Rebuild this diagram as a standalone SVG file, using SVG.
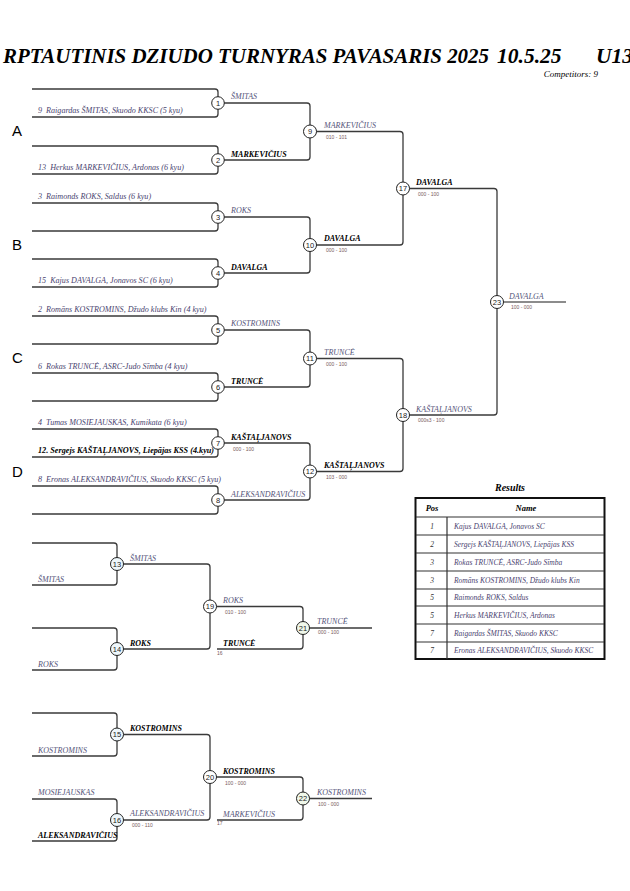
<svg xmlns="http://www.w3.org/2000/svg" width="630" height="891" viewBox="0 0 630 891">
<defs>
<style>
.ln{fill:none;stroke:#3a3a3a;stroke-width:1.3}
.nc{fill:#fff;stroke:#222;stroke-width:1}
.nt{fill:#eef7fb;stroke:#222;stroke-width:1}
.ng{fill:#f0f8ea;stroke:#222;stroke-width:1}
.nn{font-family:"Liberation Sans",Arial,sans-serif;font-size:7.5px;text-anchor:middle;fill:#222}
.ent{font-family:"Liberation Serif","Times New Roman",serif;font-style:italic;font-size:8.1px;fill:#4a4470;white-space:pre}
.entb{font-family:"Liberation Serif","Times New Roman",serif;font-style:italic;font-weight:bold;font-size:8.2px;fill:#000;white-space:pre}
.w{font-family:"Liberation Serif","Times New Roman",serif;font-style:italic;font-size:8px;fill:#55557a}
.wb{font-family:"Liberation Serif","Times New Roman",serif;font-style:italic;font-weight:bold;font-size:8px;fill:#000}
.sc{font-family:"Liberation Sans",Arial,sans-serif;font-size:5px;fill:#7a5a5a}
.grp{font-family:"Liberation Sans",Arial,sans-serif;font-size:15px;fill:#000}
.ttl{font-family:"Liberation Serif","Times New Roman",serif;font-style:italic;font-weight:bold;font-size:21.5px;fill:#000}
.tb{font-family:"Liberation Serif","Times New Roman",serif;font-style:italic;font-size:7.5px;fill:#4a4470}
.tp{font-family:"Liberation Serif","Times New Roman",serif;font-style:italic;font-size:7.5px;fill:#333;text-anchor:middle}
.th{font-family:"Liberation Serif","Times New Roman",serif;font-style:italic;font-weight:bold;font-size:8.5px;fill:#000;text-anchor:middle}
.tl{stroke:#333;stroke-width:1.2}
</style>
</defs>
<rect width="630" height="891" fill="#fff"/>
<g id="title">
<text class="ttl" x="3" y="63" textLength="486" lengthAdjust="spacingAndGlyphs">RPTAUTINIS DZIUDO TURNYRAS PAVASARIS 2025</text>
<text class="ttl" x="497" y="63">10.5.25</text>
<text class="ttl" x="596" y="63">U13-</text>
<text x="598" y="77" text-anchor="end" style="font-family:'Liberation Serif',serif;font-style:italic;font-size:9px;fill:#000">Competitors: 9</text>
</g>
<g id="pools">
<text class="grp" x="12" y="136">A</text>
<text class="grp" x="12" y="250">B</text>
<text class="grp" x="12" y="363">C</text>
<text class="grp" x="12" y="477">D</text>
</g>
<g id="connectors">
<path class="ln" d="M32,89 H215 Q218,89 218,92 V114 Q218,117 215,117 H32"/>
<path class="ln" d="M32,146 H215 Q218,146 218,149 V171 Q218,174 215,174 H32"/>
<path class="ln" d="M32,203 H215 Q218,203 218,206 V228 Q218,231 215,231 H32"/>
<path class="ln" d="M32,259 H215 Q218,259 218,262 V284 Q218,287 215,287 H32"/>
<path class="ln" d="M32,316 H215 Q218,316 218,319 V341 Q218,344 215,344 H32"/>
<path class="ln" d="M32,373 H215 Q218,373 218,376 V398 Q218,401 215,401 H32"/>
<path class="ln" d="M32,429 H215 Q218,429 218,432 V454 Q218,457 215,457 H32"/>
<path class="ln" d="M32,486 H215 Q218,486 218,489 V511 Q218,514 215,514 H32"/>
<path class="ln" d="M218,103 H307 Q310,103 310,106 V157 Q310,160 307,160 H218"/>
<path class="ln" d="M218,217 H307 Q310,217 310,220 V270 Q310,273 307,273 H218"/>
<path class="ln" d="M218,330 H307 Q310,330 310,333 V384 Q310,387 307,387 H218"/>
<path class="ln" d="M218,443 H307 Q310,443 310,446 V497 Q310,500 307,500 H218"/>
<path class="ln" d="M310,131.5 H400 Q403,131.5 403,134.5 V242 Q403,245 400,245 H310"/>
<path class="ln" d="M310,358.5 H400 Q403,358.5 403,361.5 V468.5 Q403,471.5 400,471.5 H310"/>
<path class="ln" d="M403,188.5 H494 Q497,188.5 497,191.5 V412 Q497,415 494,415 H403"/>
<path class="ln" d="M497,302 H566" style="stroke:#666;stroke-width:1.6"/>
<path class="ln" d="M32,543 H114 Q117,543 117,546 V582 Q117,585 114,585 H32"/>
<path class="ln" d="M32,628 H114 Q117,628 117,631 V667 Q117,670 114,670 H32"/>
<path class="ln" d="M117,564 H207 Q210,564 210,567 V646 Q210,649 207,649 H117"/>
<path class="ln" d="M210,606.5 H300 Q303,606.5 303,609.5 V646 Q303,649 300,649 H217"/>
<path class="ln" d="M303,628 H372"/>
<path class="ln" d="M32,713 H114 Q117,713 117,716 V753 Q117,756 114,756 H32"/>
<path class="ln" d="M32,799 H114 Q117,799 117,802 V838 Q117,841 114,841 H32"/>
<path class="ln" d="M117,734.5 H207 Q210,734.5 210,737.5 V817 Q210,820 207,820 H117"/>
<path class="ln" d="M210,777 H300 Q303,777 303,780 V817 Q303,820 300,820 H217"/>
<path class="ln" d="M303,798.5 H372"/>
</g>
<g id="entrants">
<text class="ent" x="38" y="113">9  Raigardas ŠMITAS, Skuodo KKSC (5 kyu)</text>
<text class="ent" x="38" y="170">13  Herkus MARKEVIČIUS, Ardonas (6 kyu)</text>
<text class="ent" x="38" y="199">3  Raimonds ROKS, Saldus (6 kyu)</text>
<text class="ent" x="38" y="283">15  Kajus DAVALGA, Jonavos SC (6 kyu)</text>
<text class="ent" x="38" y="312">2  Romāns KOSTROMINS, Džudo klubs Kin (4 kyu)</text>
<text class="ent" x="38" y="369">6  Rokas TRUNCĖ, ASRC-Judo Sīmba (4 kyu)</text>
<text class="ent" x="38" y="425">4  Tumas MOSIEJAUSKAS, Kumikata (6 kyu)</text>
<text class="entb" x="38" y="453">12. Sergejs KAŠTAĻJANOVS, Liepājas KSS (4.kyu)</text>
<text class="ent" x="38" y="482">8  Eronas ALEKSANDRAVIČIUS, Skuodo KKSC (5 kyu)</text>
<text class="w" x="38" y="582">ŠMITAS</text>
<text class="w" x="38" y="667">ROKS</text>
<text class="w" x="38" y="753">KOSTROMINS</text>
<text class="w" x="38" y="795">MOSIEJAUSKAS</text>
<text class="wb" x="38" y="838">ALEKSANDRAVIČIUS</text>
</g>
<g id="m1"><circle class="nc" cx="218" cy="103" r="6.3"/><text class="nn" x="218" y="105.7">1</text><text class="w" x="231" y="99">ŠMITAS</text></g>
<g id="m2"><circle class="nc" cx="218" cy="160" r="6.3"/><text class="nn" x="218" y="162.7">2</text><text class="wb" x="231" y="157">MARKEVIČIUS</text></g>
<g id="m3"><circle class="nc" cx="218" cy="217" r="6.3"/><text class="nn" x="218" y="219.7">3</text><text class="w" x="231" y="213">ROKS</text></g>
<g id="m4"><circle class="nc" cx="218" cy="273" r="6.3"/><text class="nn" x="218" y="275.7">4</text><text class="wb" x="231" y="270">DAVALGA</text></g>
<g id="m5"><circle class="nc" cx="218" cy="330" r="6.3"/><text class="nn" x="218" y="332.7">5</text><text class="w" x="231" y="326">KOSTROMINS</text></g>
<g id="m6"><circle class="nc" cx="218" cy="387" r="6.3"/><text class="nn" x="218" y="389.7">6</text><text class="wb" x="231" y="384">TRUNCĖ</text></g>
<g id="m7"><circle class="nc" cx="218" cy="443" r="6.3"/><text class="nn" x="218" y="445.7">7</text><text class="wb" x="231" y="440">KAŠTAĻJANOVS</text><text class="sc" x="233" y="451">000 - 100</text></g>
<g id="m8"><circle class="nc" cx="218" cy="500" r="6.3"/><text class="nn" x="218" y="502.7">8</text><text class="w" x="231" y="497">ALEKSANDRAVIČIUS</text></g>
<g id="m9"><circle class="nc" cx="310" cy="131.5" r="6.5"/><text class="nn" x="310" y="134.2">9</text><text class="w" x="324" y="128">MARKEVIČIUS</text><text class="sc" x="326" y="139">010 - 101</text></g>
<g id="m10"><circle class="nc" cx="310" cy="245" r="6.5"/><text class="nn" x="310" y="247.7">10</text><text class="wb" x="324" y="241">DAVALGA</text><text class="sc" x="326" y="252">000 - 100</text></g>
<g id="m11"><circle class="nc" cx="310" cy="358.5" r="6.5"/><text class="nn" x="310" y="361.2">11</text><text class="w" x="324" y="355">TRUNCĖ</text><text class="sc" x="326" y="366">000 - 100</text></g>
<g id="m12"><circle class="nc" cx="310" cy="471.5" r="6.5"/><text class="nn" x="310" y="474.2">12</text><text class="wb" x="324" y="468">KAŠTAĻJANOVS</text><text class="sc" x="326" y="479">103 - 000</text></g>
<g id="m17"><circle class="nc" cx="403" cy="188.5" r="6.5"/><text class="nn" x="403" y="191.2">17</text><text class="wb" x="416" y="185">DAVALGA</text><text class="sc" x="418" y="196">000 - 100</text></g>
<g id="m18"><circle class="nc" cx="403" cy="415" r="6.5"/><text class="nn" x="403" y="417.7">18</text><text class="w" x="416" y="412">KAŠTAĻJANOVS</text><text class="sc" x="418" y="422">000s3 - 100</text></g>
<g id="m23"><circle class="nc" cx="497" cy="302" r="6.5"/><text class="nn" x="497" y="304.7">23</text><text class="w" x="509" y="299">DAVALGA</text><text class="sc" x="511" y="309">100 - 000</text></g>
<g id="m13"><circle class="nt" cx="117" cy="564" r="6.5"/><text class="nn" x="117" y="566.7">13</text><text class="w" x="130" y="561">ŠMITAS</text></g>
<g id="m14"><circle class="nt" cx="117" cy="649" r="6.5"/><text class="nn" x="117" y="651.7">14</text><text class="wb" x="130" y="646">ROKS</text></g>
<g id="m19"><circle class="nc" cx="210" cy="606.5" r="6.5"/><text class="nn" x="210" y="609.2">19</text><text class="w" x="223" y="603">ROKS</text><text class="sc" x="225" y="614">010 - 100</text><text class="wb" x="223" y="646">TRUNCĖ</text><text class="sc" x="217" y="655">16</text></g>
<g id="m21"><circle class="ng" cx="303" cy="628" r="6.5"/><text class="nn" x="303" y="630.7">21</text><text class="w" x="317" y="624">TRUNCĖ</text><text class="sc" x="318" y="634">000 - 100</text></g>
<g id="m15"><circle class="nt" cx="117" cy="734.5" r="6.5"/><text class="nn" x="117" y="737.2">15</text><text class="wb" x="130" y="731">KOSTROMINS</text></g>
<g id="m16"><circle class="nt" cx="117" cy="820" r="6.5"/><text class="nn" x="117" y="822.7">16</text><text class="w" x="130" y="816">ALEKSANDRAVIČIUS</text><text class="sc" x="132" y="827">000 - 110</text></g>
<g id="m20"><circle class="nc" cx="210" cy="777" r="6.5"/><text class="nn" x="210" y="779.7">20</text><text class="wb" x="223" y="774">KOSTROMINS</text><text class="sc" x="225" y="785">100 - 000</text><text class="w" x="223" y="817">MARKEVIČIUS</text><text class="sc" x="217" y="825">17</text></g>
<g id="m22"><circle class="ng" cx="303" cy="798.5" r="6.5"/><text class="nn" x="303" y="801.2">22</text><text class="w" x="317" y="795">KOSTROMINS</text><text class="sc" x="318" y="806">100 - 000</text></g>
<g id="results">
<text class="th" x="510" y="491" style="font-size:10px">Results</text>
<rect x="415.5" y="498" width="189" height="161" fill="#fff" stroke="#111" stroke-width="2"/>
<line class="tl" x1="416" y1="517" x2="604" y2="517"/>
<line class="tl" x1="416" y1="535" x2="604" y2="535"/>
<line class="tl" x1="416" y1="553" x2="604" y2="553"/>
<line class="tl" x1="416" y1="571" x2="604" y2="571"/>
<line class="tl" x1="416" y1="589" x2="604" y2="589"/>
<line class="tl" x1="416" y1="606" x2="604" y2="606"/>
<line class="tl" x1="416" y1="624" x2="604" y2="624"/>
<line class="tl" x1="416" y1="642" x2="604" y2="642"/>
<line class="tl" x1="447" y1="517" x2="447" y2="659"/>
<text class="th" x="432" y="511">Pos</text>
<text class="th" x="526" y="511">Name</text>
<text class="tp" x="432" y="528.5">1</text><text class="tb" x="454" y="528.5">Kajus DAVALGA, Jonavos SC</text>
<text class="tp" x="432" y="546.5">2</text><text class="tb" x="454" y="546.5">Sergejs KAŠTAĻJANOVS, Liepājas KSS</text>
<text class="tp" x="432" y="564.5">3</text><text class="tb" x="454" y="564.5">Rokas TRUNCĖ, ASRC-Judo Sīmba</text>
<text class="tp" x="432" y="582.5">3</text><text class="tb" x="454" y="582.5">Romāns KOSTROMINS, Džudo klubs Kin</text>
<text class="tp" x="432" y="600">5</text><text class="tb" x="454" y="600">Raimonds ROKS, Saldus</text>
<text class="tp" x="432" y="617.5">5</text><text class="tb" x="454" y="617.5">Herkus MARKEVIČIUS, Ardonas</text>
<text class="tp" x="432" y="635.5">7</text><text class="tb" x="454" y="635.5">Raigardas ŠMITAS, Skuodo KKSC</text>
<text class="tp" x="432" y="653">7</text><text class="tb" x="454" y="653">Eronas ALEKSANDRAVIČIUS, Skuodo KKSC</text>
</g>
</svg>
